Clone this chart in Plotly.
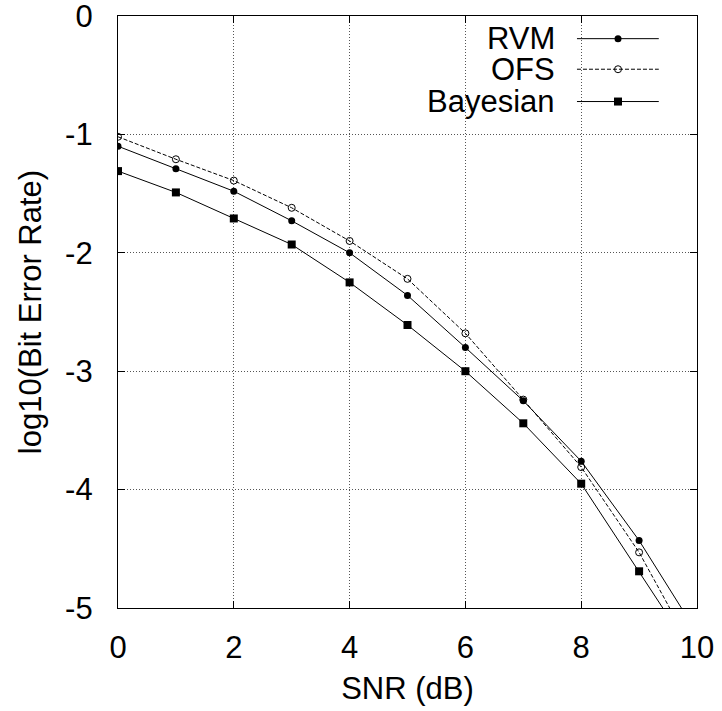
import plotly.graph_objects as go

snr = [0, 1, 2, 3, 4, 5, 6, 7, 8, 9, 10]
rvm = [-1.10, -1.29, -1.48, -1.73, -2.00, -2.36, -2.80, -3.25, -3.76, -4.43, -5.21]
ofs = [-1.02, -1.21, -1.39, -1.62, -1.90, -2.22, -2.68, -3.24, -3.81, -4.53, -5.42]
bayes = [-1.31, -1.49, -1.71, -1.93, -2.25, -2.61, -3.00, -3.44, -3.95, -4.69, -5.44]
names = ["RVM", "OFS", "Bayesian"]
x_ticks = [0, 2, 4, 6, 8, 10]
y_ticks = [0, -1, -2, -3, -4, -5]

FONT = "Liberation Sans, Arial, sans-serif"
FS = 31

styles = [
    dict(dash="solid", symbol="circle", size=7, color="black", lw=0),
    dict(dash="4px,2px", symbol="circle-open", size=7, color="black", lw=1),
    dict(dash="solid", symbol="square", size=8, color="black", lw=0),
]

fig = go.Figure()
for name, ys, st in zip(names, [rvm, ofs, bayes], styles):
    fig.add_trace(go.Scatter(
        x=snr, y=ys, mode="lines+markers", name=name,
        line=dict(color="black", width=1, dash=st["dash"]),
        marker=dict(symbol=st["symbol"], size=st["size"], color="black",
                    line=dict(color="black", width=st["lw"])),
        showlegend=False,
    ))

# manual legend (text right-aligned to the left of the key, gnuplot style)
leg_text_x = 0.7577
leg_x0, leg_xm, leg_x1 = 0.7927, 0.8636, 0.934
leg_y = [0.9617, 0.9101, 0.8555]
for name, st, yy in zip(names, styles, leg_y):
    fig.add_trace(go.Scatter(
        x=[leg_x0, leg_x1], y=[yy, yy], mode="lines", xaxis="x2", yaxis="y2",
        line=dict(color="black", width=1, dash=st["dash"]), showlegend=False,
        hoverinfo="skip"))
    fig.add_trace(go.Scatter(
        x=[leg_xm], y=[yy], mode="markers", xaxis="x2", yaxis="y2",
        marker=dict(symbol=st["symbol"], size=st["size"], color="black",
                    line=dict(color="black", width=st["lw"])),
        showlegend=False, hoverinfo="skip"))
    fig.add_annotation(x=leg_text_x, y=yy, xref="paper", yref="paper",
                       text=name, showarrow=False, xanchor="right", yanchor="middle",
                       font=dict(family=FONT, size=FS, color="black"))

axis_common = dict(
    showline=True, linecolor="black", linewidth=1.3, mirror="ticks",
    ticks="inside", ticklen=7, tickcolor="black", tickwidth=1,
    showgrid=True, gridcolor="#555555", griddash="1px,2px", gridwidth=1,
    zeroline=False, tickfont=dict(family=FONT, size=FS, color="black"),
    ticklabeloverflow="allow", automargin=False,
)

fig.update_layout(
    width=722, height=711,
    margin=dict(l=118, r=25, t=16, b=103, autoexpand=False),
    paper_bgcolor="white", plot_bgcolor="white",
    xaxis=dict(range=[0, 10], tickvals=x_ticks, ticktext=[str(v) for v in x_ticks],
               ticklabelstandoff=12,
               title=dict(text="SNR (dB)", font=dict(family=FONT, size=FS, color="black"),
                          standoff=12),
               **axis_common),
    yaxis=dict(range=[-5, 0], tickvals=y_ticks, ticktext=[str(v) for v in y_ticks],
               ticklabelstandoff=18,
               title=dict(text="log10(Bit Error Rate)",
                          font=dict(family=FONT, size=FS, color="black"), standoff=14),
               **axis_common),
    xaxis2=dict(range=[0, 1], overlaying="x", visible=False, fixedrange=True),
    yaxis2=dict(range=[0, 1], overlaying="y", visible=False, fixedrange=True),
    showlegend=False,
)

fig.write_html("out.html")
